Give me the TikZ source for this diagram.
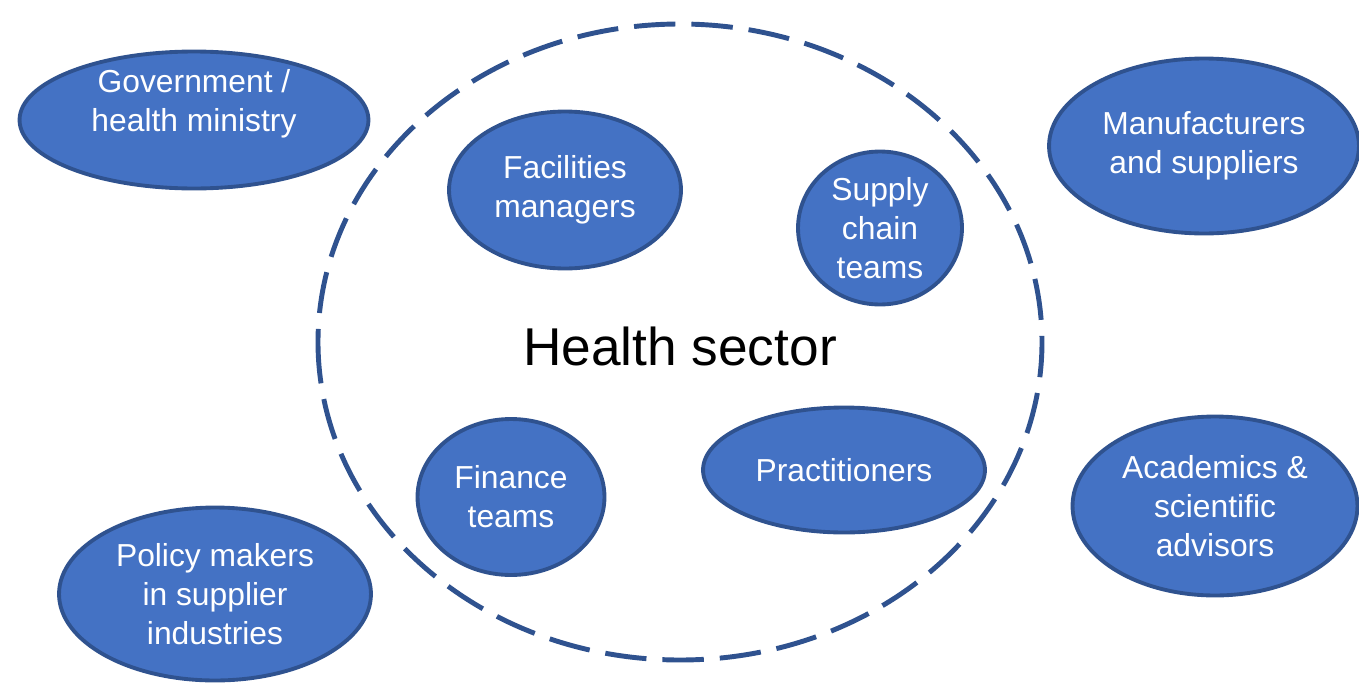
\documentclass[tikz,border=0pt]{standalone}
\usepackage{fontspec}
\setmainfont{Liberation Sans}
\usetikzlibrary{shapes.geometric}
\definecolor{bluefill}{HTML}{4472C4}
\definecolor{blueedge}{HTML}{2F528F}

\begin{document}
\begin{tikzpicture}[x=0.02cm, y=-0.02cm,
	blob/.style={ellipse, draw=blueedge, fill=bluefill, line width=2.2pt, inner sep=0pt, text=white, align=center, font=\fontsize{18.1}{22.1}\selectfont},
	blobtext/.style={text=white, align=center, inner sep=0pt, font=\fontsize{18.1}{22.1}\selectfont},
	ring/.style={draw=blueedge, line width=2.8pt, dash pattern=on 23.6pt off 9.1pt}]
			%%%%% START %%%%%
			\useasboundingbox (0, 0) rectangle (1359, 683);
			
			% the health sector
			\draw[ring] (318, 342) arc [start angle=180, end angle=-180, x radius=362, y radius=318];
			\node[font=\fontsize{30.3}{36}\selectfont, inner sep=0pt] (sector) at (680, 346) {Health sector};
			
			\node[blob, minimum width=4.64cm, minimum height=3.14cm] (facilities) at (565, 190) {Facilities\\managers};
			\node[blob, minimum width=3.28cm, minimum height=3.06cm] (supply) at (880, 228) {Supply\\chain\\teams};
			\node[blob, minimum width=3.74cm, minimum height=3.12cm] (finance) at (511, 497) {Finance\\teams};
			\node[blob, minimum width=5.64cm, minimum height=2.5cm] (practitioners) at (844, 470) {Practitioners};
			
			% outside the sector
			\node[blob, minimum width=6.98cm, minimum height=2.74cm] (government) at (194, 120) {};
			\node[blobtext] (governmenttext) at (194, 104) {Government /\\health ministry};
			\node[blob, minimum width=6.2cm, minimum height=3.5cm] (manufacturers) at (1204, 146) {Manufacturers\\and suppliers};
			\node[blob, minimum width=5.7cm, minimum height=3.58cm] (academics) at (1215, 506) {Academics \&\\scientific\\advisors};
			\node[blob, minimum width=6.24cm, minimum height=3.46cm] (policy) at (215, 594) {Policy makers\\in supplier\\industries};
			
			%%%%% END %%%%%
\end{tikzpicture}
\end{document}
